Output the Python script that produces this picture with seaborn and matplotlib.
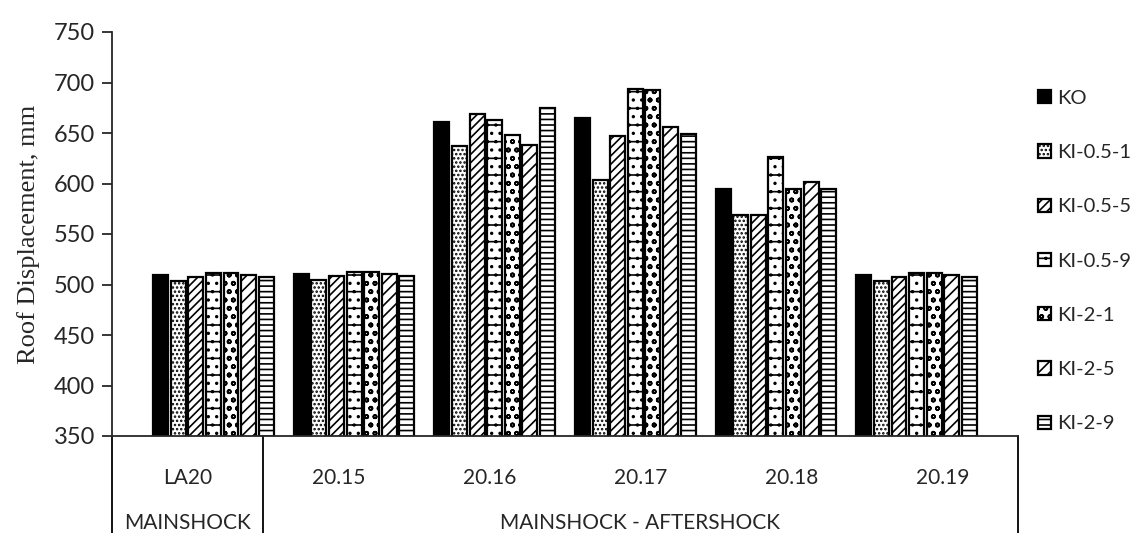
import numpy as np
import pandas as pd
import matplotlib
matplotlib.use("Agg")
import matplotlib.pyplot as plt
import matplotlib.patches as mpatches
import seaborn as sns

# data
events = ["LA20", "20.15", "20.16", "20.17", "20.18", "20.19"]
models = ["KO", "KI-0.5-1", "KI-0.5-5", "KI-0.5-9", "KI-2-1", "KI-2-5", "KI-2-9"]
ko = [509, 510, 661, 665, 595, 509]
ki_05_1 = [503, 504, 637, 603, 569, 503]
ki_05_5 = [507, 508, 669, 647, 569, 507]
ki_05_9 = [511, 512, 663, 694, 626, 511]
ki_2_1 = [511, 512, 648, 693, 595, 511]
ki_2_5 = [509, 510, 638, 656, 601, 509]
ki_2_9 = [507, 508, 675, 649, 595, 507]

series = [ko, ki_05_1, ki_05_5, ki_05_9, ki_2_1, ki_2_5, ki_2_9]
df = pd.DataFrame([
    {"event": ev, "model": m, "disp": v}
    for m, vals in zip(models, series)
    for ev, v in zip(events, vals)
])

hatches = [None, "....", "////", "-..", "oo", "///", "---"]
fills = ["black"] + ["white"] * 6

sns.set_style("white")
plt.rcParams["font.family"] = ["Lato", "DejaVu Sans"]
plt.rcParams["hatch.linewidth"] = 1.2

fig = plt.figure(figsize=(11.43, 5.33), dpi=100)
ax = fig.add_axes([112 / 1143, 1 - 436 / 533, (1018 - 112) / 1143, (436 - 32) / 533])

sns.barplot(data=df, x="event", y="disp", hue="model", hue_order=models,
            palette=fills, edgecolor="black", linewidth=1.6, width=0.875,
            gap=0.15, saturation=1, legend=False, ax=ax)

for cont, h in zip(ax.containers, hatches):
    for bar in cont:
        bar.set_hatch(h)

ax.set_ylim(350, 750)
ax.set_yticks(np.arange(350, 751, 50))
ax.tick_params(axis="y", labelsize=17, length=7, width=1.3, direction="out", left=True, pad=5)
ax.set_xticks([])
ax.set_xlabel("")
ax.set_ylabel("Roof Displacement, mm", family="Liberation Serif", fontsize=19, labelpad=10)
sns.despine(ax=ax, top=True, right=True)
ax.spines["left"].set_linewidth(1.3)
ax.spines["bottom"].set_linewidth(1.3)

# category table under the axis
n = len(events)
trans = ax.transAxes
for xl in [0, 1 / n, 1]:
    ax.plot([xl, xl], [0, -0.25], color="black", lw=1.3, transform=trans, clip_on=False)
for i, ev in enumerate(events):
    ax.text((i + 0.5) / n, -0.105, ev, transform=trans, ha="center", va="center", fontsize=15)
ax.text(0.5 / n, -0.215, "MAINSHOCK", transform=trans, ha="center", va="center", fontsize=15)
ax.text((1 / n + 1) / 2, -0.215, "MAINSHOCK - AFTERSHOCK", transform=trans,
        ha="center", va="center", fontsize=15)

handles = [mpatches.Patch(facecolor=f, edgecolor="black", hatch=h, linewidth=1.6)
           for f, h in zip(fills, hatches)]
ax.legend(handles, models, loc="center left", bbox_to_anchor=(1.002, 0.433), frameon=False,
          fontsize=14.5, handlelength=0.65, handleheight=0.65, handletextpad=0.3,
          labelspacing=1.85, borderpad=0.4)

fig.savefig("out.png", dpi=100)
